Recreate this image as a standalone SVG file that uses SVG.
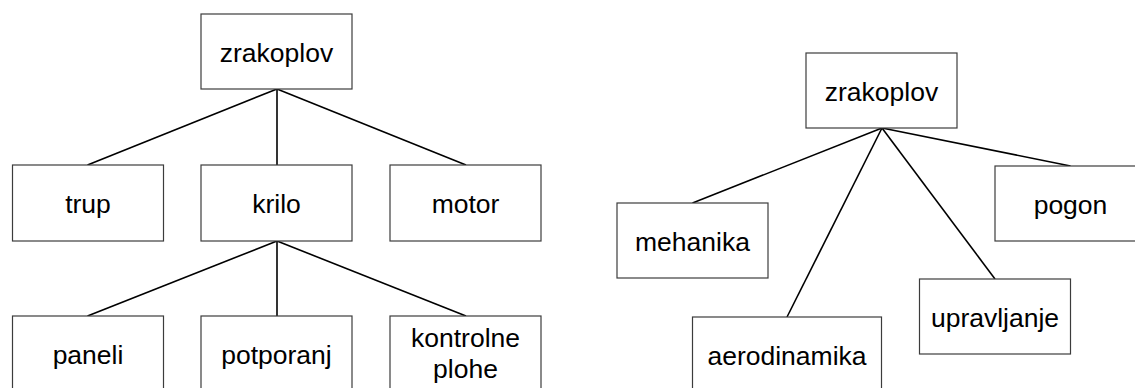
<svg xmlns="http://www.w3.org/2000/svg" width="1135" height="388" viewBox="0 0 1135 388">
<style>
.box{fill:#fff;stroke:#3c3c3c;stroke-width:1.2}
.lbl{font-family:"Liberation Sans",Arial,sans-serif;font-size:26.5px;fill:#000;text-anchor:middle}
.conn line{stroke:#000;stroke-width:1.6}
</style>
<rect width="1135" height="388" fill="#fff"/>
<g class="conn">
<line x1="277" y1="89" x2="87.5" y2="165"/>
<line x1="277" y1="89" x2="277" y2="165"/>
<line x1="277" y1="89" x2="466" y2="165"/>
<line x1="277" y1="241" x2="87.5" y2="316"/>
<line x1="277" y1="241" x2="277" y2="316"/>
<line x1="277" y1="241" x2="466" y2="316"/>
<line x1="882" y1="128" x2="692.5" y2="203"/>
<line x1="882" y1="128" x2="787" y2="317"/>
<line x1="882" y1="128" x2="995" y2="279"/>
<line x1="882" y1="128" x2="1070.5" y2="166"/>
</g>
<g id="n-zrakoplov-left"><rect class="box" x="201" y="14" width="151" height="75"/><text class="lbl" x="276.5" y="61.5">zrakoplov</text></g>
<g id="n-trup"><rect class="box" x="12.5" y="165" width="151" height="76"/><text class="lbl" x="88" y="212.5">trup</text></g>
<g id="n-krilo"><rect class="box" x="201" y="165" width="151" height="76"/><text class="lbl" x="276.5" y="212.5">krilo</text></g>
<g id="n-motor"><rect class="box" x="390" y="165" width="151" height="76"/><text class="lbl" x="465.5" y="212.5">motor</text></g>
<g id="n-paneli"><rect class="box" x="12.5" y="316" width="151" height="76"/><text class="lbl" x="88" y="363.5">paneli</text></g>
<g id="n-potporanj"><rect class="box" x="201" y="316" width="151" height="76"/><text class="lbl" x="276.5" y="363.5">potporanj</text></g>
<g id="n-kontrolne"><rect class="box" x="390" y="316" width="151" height="76"/><text class="lbl" x="465.5" y="347">kontrolne</text><text class="lbl" x="465.5" y="377.5">plohe</text></g>
<g id="n-zrakoplov-right"><rect class="box" x="806" y="53" width="151" height="75"/><text class="lbl" x="881.5" y="100.5">zrakoplov</text></g>
<g id="n-mehanika"><rect class="box" x="617" y="203" width="151" height="75"/><text class="lbl" x="692.5" y="250.5">mehanika</text></g>
<g id="n-pogon"><rect class="box" x="995" y="166" width="151" height="75"/><text class="lbl" x="1070.5" y="213.5">pogon</text></g>
<g id="n-aerodinamika"><rect class="box" x="692.5" y="317" width="189" height="76"/><text class="lbl" x="787" y="364.5">aerodinamika</text></g>
<g id="n-upravljanje"><rect class="box" x="919.5" y="279" width="151" height="75"/><text class="lbl" x="995" y="326.5">upravljanje</text></g>
</svg>
